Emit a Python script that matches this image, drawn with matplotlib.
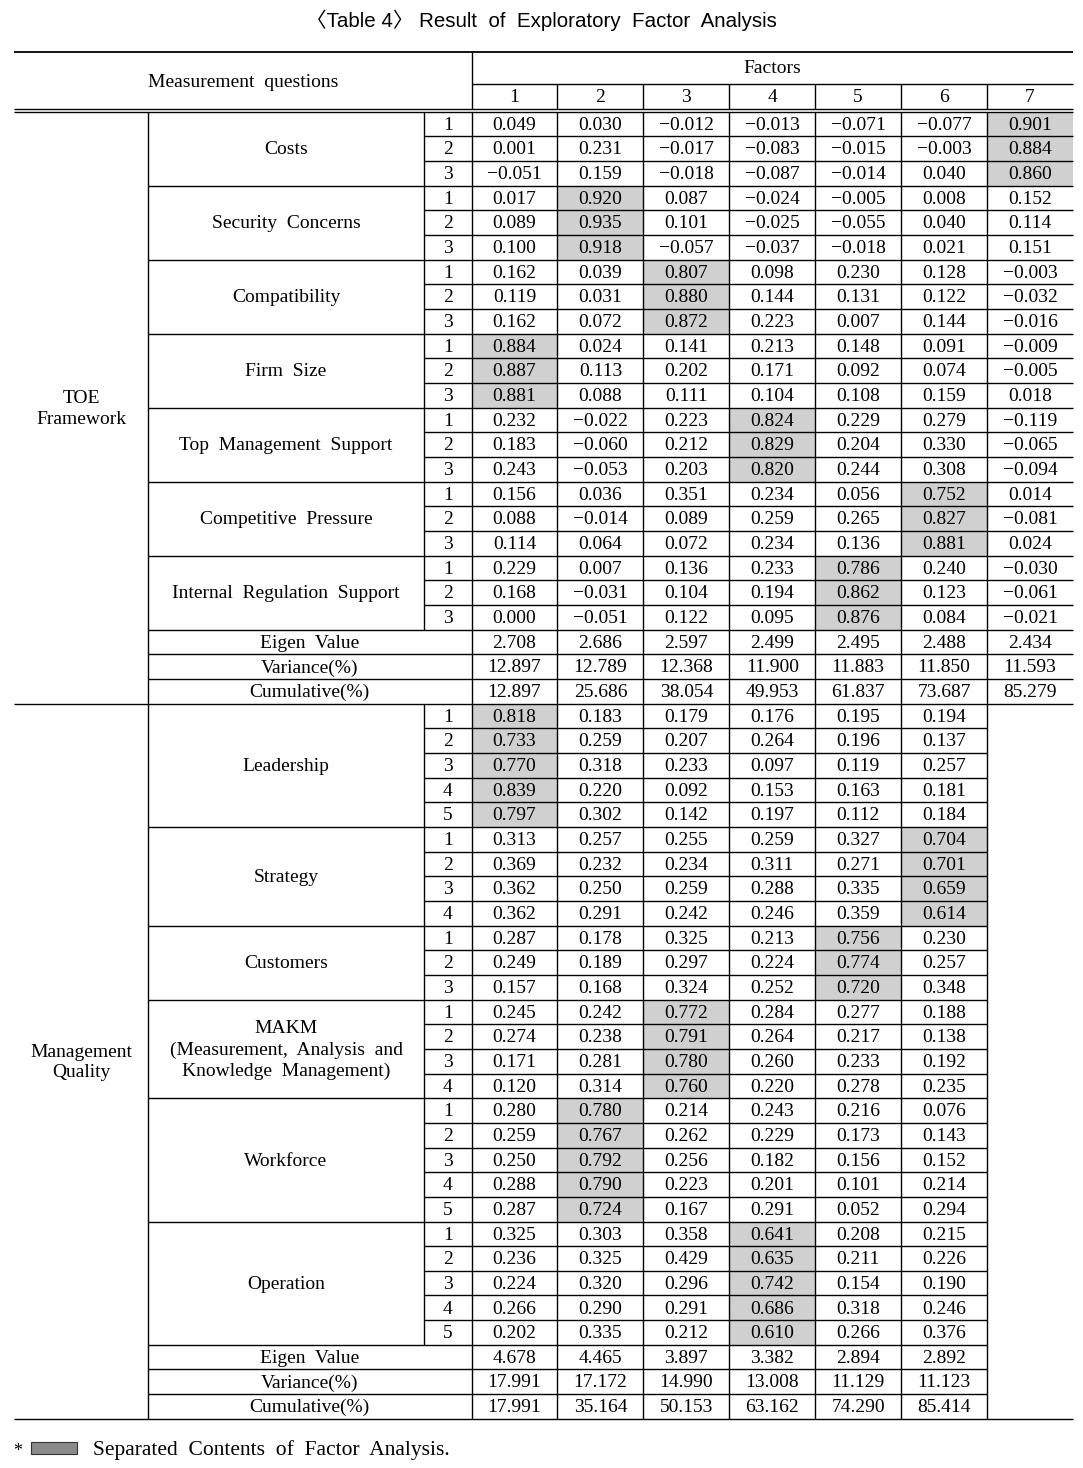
import matplotlib.pyplot as plt
from matplotlib.patches import Rectangle

# ---- data ----
factors_toe = ["1", "2", "3", "4", "5", "6", "7"]

toe_groups = ["Costs", "Security  Concerns", "Compatibility", "Firm  Size",
              "Top  Management  Support", "Competitive  Pressure",
              "Internal  Regulation  Support"]
toe_factor = [7, 2, 3, 1, 4, 6, 5]   # factor each construct loads on (shaded)
toe_loadings = [
    [[0.049, 0.030, -0.012, -0.013, -0.071, -0.077, 0.901],
     [0.001, 0.231, -0.017, -0.083, -0.015, -0.003, 0.884],
     [-0.051, 0.159, -0.018, -0.087, -0.014, 0.040, 0.860]],
    [[0.017, 0.920, 0.087, -0.024, -0.005, 0.008, 0.152],
     [0.089, 0.935, 0.101, -0.025, -0.055, 0.040, 0.114],
     [0.100, 0.918, -0.057, -0.037, -0.018, 0.021, 0.151]],
    [[0.162, 0.039, 0.807, 0.098, 0.230, 0.128, -0.003],
     [0.119, 0.031, 0.880, 0.144, 0.131, 0.122, -0.032],
     [0.162, 0.072, 0.872, 0.223, 0.007, 0.144, -0.016]],
    [[0.884, 0.024, 0.141, 0.213, 0.148, 0.091, -0.009],
     [0.887, 0.113, 0.202, 0.171, 0.092, 0.074, -0.005],
     [0.881, 0.088, 0.111, 0.104, 0.108, 0.159, 0.018]],
    [[0.232, -0.022, 0.223, 0.824, 0.229, 0.279, -0.119],
     [0.183, -0.060, 0.212, 0.829, 0.204, 0.330, -0.065],
     [0.243, -0.053, 0.203, 0.820, 0.244, 0.308, -0.094]],
    [[0.156, 0.036, 0.351, 0.234, 0.056, 0.752, 0.014],
     [0.088, -0.014, 0.089, 0.259, 0.265, 0.827, -0.081],
     [0.114, 0.064, 0.072, 0.234, 0.136, 0.881, 0.024]],
    [[0.229, 0.007, 0.136, 0.233, 0.786, 0.240, -0.030],
     [0.168, -0.031, 0.104, 0.194, 0.862, 0.123, -0.061],
     [0.000, -0.051, 0.122, 0.095, 0.876, 0.084, -0.021]],
]
toe_eigen = [2.708, 2.686, 2.597, 2.499, 2.495, 2.488, 2.434]
toe_variance = [12.897, 12.789, 12.368, 11.900, 11.883, 11.850, 11.593]
toe_cumulative = [12.897, 25.686, 38.054, 49.953, 61.837, 73.687, 85.279]

mq_groups = ["Leadership", "Strategy", "Customers",
             "MAKM\n(Measurement,  Analysis  and\nKnowledge  Management)",
             "Workforce", "Operation"]
mq_factor = [1, 6, 5, 3, 2, 4]
mq_loadings = [
    [[0.818, 0.183, 0.179, 0.176, 0.195, 0.194],
     [0.733, 0.259, 0.207, 0.264, 0.196, 0.137],
     [0.770, 0.318, 0.233, 0.097, 0.119, 0.257],
     [0.839, 0.220, 0.092, 0.153, 0.163, 0.181],
     [0.797, 0.302, 0.142, 0.197, 0.112, 0.184]],
    [[0.313, 0.257, 0.255, 0.259, 0.327, 0.704],
     [0.369, 0.232, 0.234, 0.311, 0.271, 0.701],
     [0.362, 0.250, 0.259, 0.288, 0.335, 0.659],
     [0.362, 0.291, 0.242, 0.246, 0.359, 0.614]],
    [[0.287, 0.178, 0.325, 0.213, 0.756, 0.230],
     [0.249, 0.189, 0.297, 0.224, 0.774, 0.257],
     [0.157, 0.168, 0.324, 0.252, 0.720, 0.348]],
    [[0.245, 0.242, 0.772, 0.284, 0.277, 0.188],
     [0.274, 0.238, 0.791, 0.264, 0.217, 0.138],
     [0.171, 0.281, 0.780, 0.260, 0.233, 0.192],
     [0.120, 0.314, 0.760, 0.220, 0.278, 0.235]],
    [[0.280, 0.780, 0.214, 0.243, 0.216, 0.076],
     [0.259, 0.767, 0.262, 0.229, 0.173, 0.143],
     [0.250, 0.792, 0.256, 0.182, 0.156, 0.152],
     [0.288, 0.790, 0.223, 0.201, 0.101, 0.214],
     [0.287, 0.724, 0.167, 0.291, 0.052, 0.294]],
    [[0.325, 0.303, 0.358, 0.641, 0.208, 0.215],
     [0.236, 0.325, 0.429, 0.635, 0.211, 0.226],
     [0.224, 0.320, 0.296, 0.742, 0.154, 0.190],
     [0.266, 0.290, 0.291, 0.686, 0.318, 0.246],
     [0.202, 0.335, 0.212, 0.610, 0.266, 0.376]],
]
mq_eigen = [4.678, 4.465, 3.897, 3.382, 2.894, 2.892]
mq_variance = [17.991, 17.172, 14.990, 13.008, 11.129, 11.123]
mq_cumulative = [17.991, 35.164, 50.153, 63.162, 74.290, 85.414]

summary_labels = ["Eigen  Value", "Variance(%)", "Cumulative(%)"]

# ---- layout (pixels) ----
W, H = 1083, 1468
X_LEFT, X_GRP, X_ITEM, X_VAL, X_RIGHT = 14, 148, 424, 471.5, 1073
COL_W = (X_RIGHT - X_VAL) / 7
Y_TOP, Y_FAC, Y_HDR1, Y_HDR2 = 52.3, 83.5, 109.3, 111.8
ROW_H = 24.66
DY = 1.2            # text sits a little below the cell middle
LW = 1.0
SHADE = "#d0d0d0"
SERIF = ["Liberation Serif", "DejaVu Serif"]
FS = 14

fig = plt.figure(figsize=(W / 100, H / 100), dpi=100)
ax = fig.add_axes([0, 0, 1, 1])
ax.set_xlim(0, W)
ax.set_ylim(H, 0)
ax.axis("off")


def hline(y, x0, x1, lw=LW):
    ax.plot([x0, x1], [y, y], color="black", lw=lw, solid_capstyle="butt")


def vline(x, y0, y1, lw=LW):
    ax.plot([x, x], [y0, y1], color="black", lw=lw, solid_capstyle="butt")


def txt(x, y, s, size=FS, **kw):
    ax.text(x, y + DY, s, ha="center", va="center", fontsize=size,
            family=SERIF, **kw)


def fmt(v):
    return f"{v:.3f}".replace("-", "\u2212")


# title
ax.text(W / 2, 20, "\u3008Table 4\u3009 Result  of  Exploratory  Factor  Analysis",
        ha="center", va="center", fontsize=14.8,
        family=["Liberation Sans Narrow", "Liberation Sans", "Noto Sans CJK KR"])

# header
hline(Y_TOP, X_LEFT, X_RIGHT, lw=1.3)
txt((X_LEFT + X_VAL) / 2, 81, "Measurement  questions")
txt((X_VAL + X_RIGHT) / 2, 67, "Factors")
hline(Y_FAC, X_VAL, X_RIGHT)
vline(X_VAL, Y_TOP, Y_HDR1)
for j, f in enumerate(factors_toe):
    txt(X_VAL + (j + 0.5) * COL_W, 96.5, f)
    if j > 0:
        vline(X_VAL + j * COL_W, Y_FAC, Y_HDR1)
hline(Y_HDR1, X_LEFT, X_RIGHT)
hline(Y_HDR2, X_LEFT, X_RIGHT)


def draw_section(y0, title, groups, fac, loadings, eigen, var, cum):
    ncol = len(eigen)
    x_end = X_VAL + ncol * COL_W
    y = y0
    for g, name in enumerate(groups):
        rows = loadings[g]
        y_start = y
        if g > 0:
            hline(y, X_GRP, X_RIGHT if ncol == 7 else x_end)
        for r, vals in enumerate(rows):
            if r > 0:
                hline(y, X_ITEM, x_end)
            k = fac[g] - 1
            ax.add_patch(Rectangle((X_VAL + k * COL_W, y), COL_W, ROW_H,
                                   facecolor=SHADE, edgecolor="none", zorder=0))
            txt((X_ITEM + X_VAL) / 2, y + ROW_H / 2, str(r + 1))
            for j, v in enumerate(vals):
                txt(X_VAL + (j + 0.5) * COL_W, y + ROW_H / 2, fmt(v))
            y += ROW_H
        txt((X_GRP + X_ITEM) / 2, (y_start + y) / 2, name, linespacing=1.3)
    y_items = y
    for label, vals in zip(summary_labels, [eigen, var, cum]):
        hline(y, X_GRP, X_RIGHT if ncol == 7 else x_end)
        txt((X_GRP + X_VAL) / 2, y + ROW_H / 2, label)
        for j, v in enumerate(vals):
            txt(X_VAL + (j + 0.5) * COL_W, y + ROW_H / 2, fmt(v))
        y += ROW_H
    # vertical rules
    vline(X_GRP, y0, y)
    vline(X_ITEM, y0, y_items)
    for j in range(ncol + 1):
        if X_VAL + j * COL_W < X_RIGHT - 1:
            vline(X_VAL + j * COL_W, y0, y)
    txt((X_LEFT + X_GRP) / 2, (y0 + y) / 2, title, linespacing=1.25)
    return y


y_mid = draw_section(Y_HDR2, "TOE\nFramework", toe_groups, toe_factor,
                     toe_loadings, toe_eigen, toe_variance, toe_cumulative)
hline(y_mid, X_LEFT, X_RIGHT)
y_end = draw_section(y_mid, "Management\nQuality", mq_groups, mq_factor,
                     mq_loadings, mq_eigen, mq_variance, mq_cumulative)
hline(y_end, X_LEFT, X_RIGHT)

# footnote
ax.text(18, 1451, "*", ha="center", va="center", fontsize=13, family=SERIF)
ax.add_patch(Rectangle((31, 1442), 46, 12, facecolor="#8a8a8a",
                       edgecolor="#333333", lw=0.8))
ax.text(93, 1450, "Separated  Contents  of  Factor  Analysis.", ha="left",
        va="center", fontsize=15.5, family=SERIF)

fig.savefig("out.png", dpi=100)
